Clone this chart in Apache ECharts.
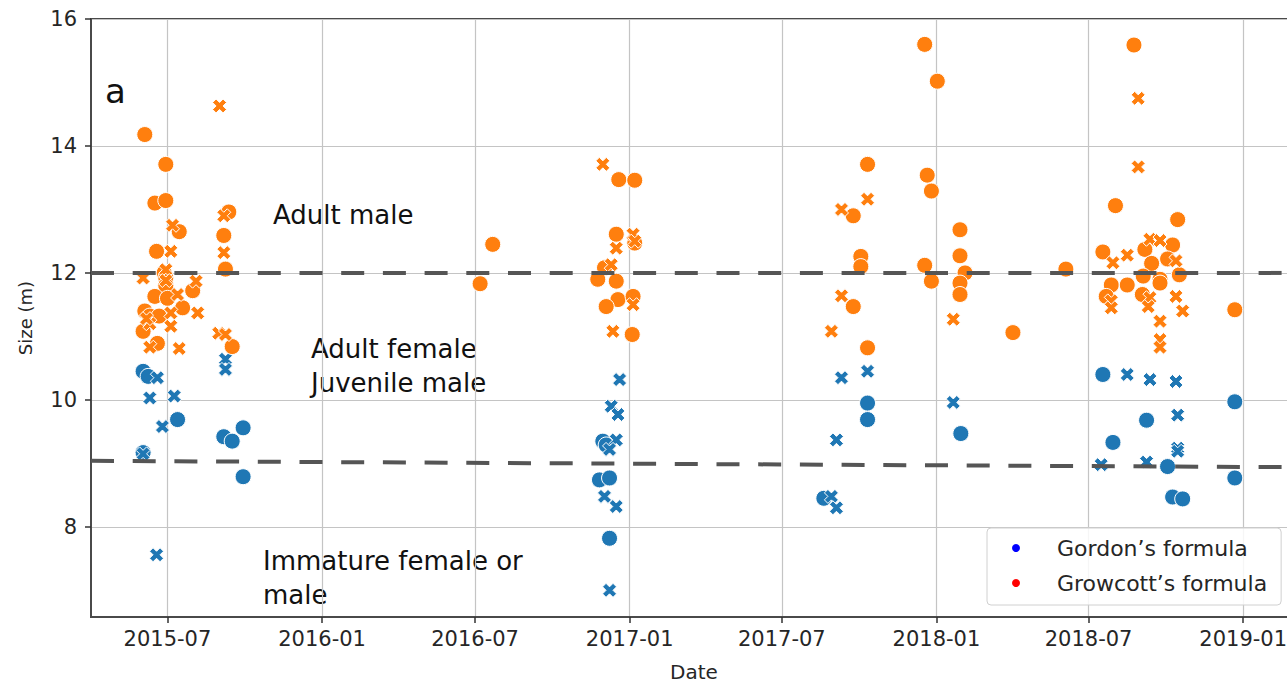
<!DOCTYPE html>
<html>
<head>
<meta charset="utf-8">
<script src="https://cdn.jsdelivr.net/npm/echarts@6/dist/echarts.min.js"></script>
<style>
  html, body { margin: 0; padding: 0; background: #fff; }
  #chart { width: 1287px; height: 686px; }
</style>
</head>
<body>
<div id="chart"></div>
<script>
// Size estimates per sighting date, two formulas, two marker styles
const gordonDots = [
  ['2015-06-02', 10.45], ['2015-06-08', 10.37], ['2015-07-13', 9.69], ['2015-09-06', 9.42],
  ['2015-09-16', 9.35], ['2015-09-29', 9.56], ['2015-06-02', 9.17], ['2015-09-29', 8.79],
  ['2016-11-30', 9.35], ['2016-12-04', 9.29], ['2016-11-26', 8.74], ['2016-12-08', 8.77],
  ['2016-12-08', 7.82],
  ['2017-10-11', 9.95], ['2017-10-11', 9.69], ['2017-08-20', 8.45], ['2018-01-30', 9.47],
  ['2018-07-18', 10.40], ['2018-09-08', 9.68], ['2018-07-30', 9.33], ['2018-10-03', 8.95],
  ['2018-10-09', 8.47], ['2018-10-21', 8.44], ['2018-12-22', 9.97], ['2018-12-22', 8.77]
];
const gordonCrosses = [
  ['2015-09-08', 10.64], ['2015-09-08', 10.48], ['2015-06-19', 10.35], ['2015-06-10', 10.03],
  ['2015-07-09', 10.06], ['2015-06-25', 9.58], ['2015-06-02', 9.15], ['2015-06-18', 7.56],
  ['2016-12-20', 10.32], ['2016-12-10', 9.90], ['2016-12-18', 9.77], ['2016-12-16', 9.37],
  ['2016-12-08', 9.22], ['2016-12-02', 8.48], ['2016-12-16', 8.32], ['2016-12-08', 7.00],
  ['2017-10-11', 10.45], ['2017-09-10', 10.35], ['2017-09-04', 9.37], ['2017-08-29', 8.48],
  ['2017-09-04', 8.30], ['2018-01-21', 9.96],
  ['2018-08-16', 10.40], ['2018-09-12', 10.32], ['2018-10-13', 10.29], ['2018-10-15', 9.76],
  ['2018-10-15', 9.24], ['2018-10-15', 9.19], ['2018-07-16', 8.98], ['2018-09-08', 9.02]
];
const growcottDots = [
  ['2015-06-04', 14.18], ['2015-06-29', 13.71], ['2015-06-16', 13.10], ['2015-06-29', 13.14],
  ['2015-07-15', 12.65], ['2015-09-12', 12.96], ['2015-09-06', 12.59], ['2015-09-08', 12.06],
  ['2015-06-18', 12.34], ['2015-06-27', 12.00], ['2015-06-29', 11.92], ['2015-06-29', 11.80],
  ['2015-07-31', 11.72], ['2015-06-16', 11.63], ['2015-07-01', 11.60], ['2015-07-19', 11.45],
  ['2015-06-04', 11.40], ['2015-06-10', 11.32], ['2015-06-21', 11.32], ['2015-06-02', 11.08],
  ['2015-06-19', 10.89], ['2015-09-16', 10.84],
  ['2016-07-07', 11.83], ['2016-07-22', 12.45],
  ['2016-12-19', 13.47], ['2017-01-07', 13.46], ['2016-12-16', 12.61], ['2017-01-07', 12.47],
  ['2016-12-02', 12.08], ['2016-11-24', 11.90], ['2016-12-16', 11.87], ['2016-12-18', 11.58],
  ['2017-01-05', 11.63], ['2016-12-04', 11.47], ['2017-01-04', 11.03],
  ['2017-12-18', 15.60], ['2018-01-02', 15.02], ['2017-10-11', 13.71], ['2017-09-24', 12.90],
  ['2017-12-21', 13.54], ['2017-12-26', 13.29], ['2018-01-29', 12.68], ['2018-01-29', 12.27],
  ['2017-10-03', 12.26], ['2017-10-03', 12.10], ['2017-12-18', 12.12], ['2017-12-26', 11.87],
  ['2018-02-04', 12.00], ['2018-01-29', 11.84], ['2018-01-29', 11.66], ['2017-09-24', 11.47],
  ['2017-10-11', 10.82], ['2018-04-02', 11.06], ['2018-06-04', 12.06],
  ['2018-08-24', 15.59], ['2018-08-02', 13.06], ['2018-10-15', 12.84], ['2018-07-18', 12.33],
  ['2018-09-06', 12.37], ['2018-10-09', 12.44], ['2018-09-14', 12.15], ['2018-10-03', 12.22],
  ['2018-09-04', 11.95], ['2018-10-17', 11.97], ['2018-09-24', 11.90], ['2018-09-24', 11.84],
  ['2018-07-28', 11.81], ['2018-08-16', 11.81], ['2018-07-22', 11.63], ['2018-09-03', 11.66],
  ['2018-12-22', 11.42]
];
const growcottCrosses = [
  ['2015-09-01', 14.63], ['2015-07-07', 12.75], ['2015-09-06', 12.90], ['2015-09-06', 12.32],
  ['2015-07-05', 12.34], ['2015-06-02', 11.92], ['2015-06-29', 12.05], ['2015-06-29', 11.88],
  ['2015-08-04', 11.87], ['2015-07-13', 11.66], ['2015-08-06', 11.37], ['2015-07-05', 11.37],
  ['2015-06-10', 11.20], ['2015-07-05', 11.16], ['2015-06-10', 10.83], ['2015-07-15', 10.81],
  ['2015-08-31', 11.05], ['2015-09-08', 11.03], ['2015-06-06', 11.28],
  ['2016-11-30', 13.71], ['2017-01-05', 12.61], ['2016-12-16', 12.39], ['2016-12-10', 12.13],
  ['2017-01-05', 11.50], ['2016-12-12', 11.08], ['2017-01-07', 12.50],
  ['2017-10-11', 13.16], ['2017-09-10', 13.00], ['2017-09-10', 11.64], ['2017-08-29', 11.08],
  ['2018-01-21', 11.27],
  ['2018-08-29', 14.75], ['2018-08-29', 13.67], ['2018-07-30', 12.16], ['2018-08-16', 12.28],
  ['2018-09-12', 12.53], ['2018-09-24', 12.51], ['2018-10-13', 12.19], ['2018-07-28', 11.56],
  ['2018-07-28', 11.45], ['2018-09-12', 11.61], ['2018-09-10', 11.47], ['2018-10-13', 11.63],
  ['2018-10-21', 11.40], ['2018-09-24', 11.24], ['2018-09-24', 10.95], ['2018-09-24', 10.83]
];

// Class boundaries (adult male / adult female, and the immature limit)
const adultMaleLimit = [['2015-04-01', 12.0], ['2019-03-06', 12.0]];
const immatureLimit = [['2015-04-01', 9.04], ['2019-03-06', 8.94]];

// Axis ranges and ticks
const dateRange = ['2015-04-01', '2019-03-06'];
const sizeRange = [6.58, 16];
const dateTicks = ['2015-07-01', '2016-01-01', '2016-07-01', '2017-01-01',
                   '2017-07-01', '2018-01-01', '2018-07-01', '2019-01-01'];
const sizeTicks = [8, 10, 12, 14, 16];

const GORDON = 'Gordon\u2019s formula';
const GROWCOTT = 'Growcott\u2019s formula';
const BLUE = '#1f77b4';
const ORANGE = '#ff7f0e';
const CROSS = 'path://M-1,-0.5 L-0.5,-1 L0,-0.5 L0.5,-1 L1,-0.5 L0.5,0 L1,0.5 L0.5,1 L0,0.5 L-0.5,1 L-1,0.5 L-0.5,0 Z';

// Dates become millisecond timestamps on a numeric axis
const toTime = d => echarts.time.parse(d).getTime();
const withTime = rows => rows.map(([d, v]) => [toTime(d), v]);
const tickTimes = dateTicks.map(toTime);

const chart = echarts.init(document.getElementById('chart'), null, { renderer: 'svg' });

function scatter(name, data, color, symbol, size) {
  return {
    name, type: 'scatter', data: withTime(data), symbol, symbolSize: size,
    itemStyle: { color, borderColor: '#ffffff', borderWidth: 1, opacity: 1 },
    emphasis: { disabled: true }, silent: true, z: 3
  };
}
function boundary(data) {
  return {
    type: 'line', data: withTime(data), symbol: 'none', silent: true, z: 4,
    lineStyle: { color: '#555555', width: 4, type: [23, 18.7], dashOffset: 0 }
  };
}

const axisFont = "'DejaVu Sans', sans-serif";
const annotFont = "'DejaVu Sans', sans-serif";

chart.setOption({
  animation: false,
  backgroundColor: '#ffffff',
  grid: {
    left: 91, right: -10, top: 19, bottom: 69,
    outerBoundsMode: 'none',
    show: true, borderColor: '#4a4a4a', borderWidth: 2, backgroundColor: '#ffffff'
  },
  xAxis: {
    type: 'value', min: toTime(dateRange[0]), max: toTime(dateRange[1]),
    name: 'Date', nameLocation: 'middle', nameGap: 45,
    nameTextStyle: { fontFamily: axisFont, fontSize: 20, color: '#262626' },
    axisLine: { show: true, onZero: false, lineStyle: { color: '#4a4a4a', width: 2 } },
    axisTick: { show: true, length: 6, customValues: tickTimes, lineStyle: { color: '#333', width: 1.5 } },
    axisLabel: {
      customValues: tickTimes, margin: 11,
      fontFamily: axisFont, fontSize: 21, color: '#262626',
      formatter: v => echarts.time.format(v, '{yyyy}-{MM}', false)
    },
    splitLine: { show: true, lineStyle: { color: '#c4c4c4', width: 1.2 } }
  },
  yAxis: {
    type: 'value', min: sizeRange[0], max: sizeRange[1],
    name: 'Size (m)', nameLocation: 'middle', nameGap: 57, nameRotate: 90,
    nameTextStyle: { fontFamily: axisFont, fontSize: 18, color: '#262626' },
    axisLine: { show: true, onZero: false, lineStyle: { color: '#4a4a4a', width: 2 } },
    axisTick: { show: true, length: 6, customValues: sizeTicks, lineStyle: { color: '#333', width: 1.5 } },
    axisLabel: { customValues: sizeTicks, margin: 14, fontFamily: axisFont, fontSize: 21, color: '#262626' },
    splitLine: { show: true, lineStyle: { color: '#c4c4c4', width: 1.2 } }
  },
  legend: {
    orient: 'vertical', left: 987, top: 528,
    data: [
      { name: GORDON, icon: 'circle', itemStyle: { color: '#0000ff', borderWidth: 0 } },
      { name: GROWCOTT, icon: 'circle', itemStyle: { color: '#ff0000', borderWidth: 0 } }
    ],
    itemWidth: 8, itemHeight: 8, itemGap: 13, padding: [9, 14, 11, 25],
    textStyle: { fontFamily: axisFont, fontSize: 22, color: '#262626', padding: [0, 0, 0, 32] },
    backgroundColor: 'rgba(255,255,255,0.85)', borderColor: '#d0d0d0', borderWidth: 1, borderRadius: 4,
    selectedMode: false
  },
  series: [
    scatter(GORDON, gordonDots, BLUE, 'circle', 16),
    scatter(GORDON, gordonCrosses, BLUE, CROSS, 14),
    scatter(GROWCOTT, growcottDots, ORANGE, 'circle', 16),
    scatter(GROWCOTT, growcottCrosses, ORANGE, CROSS, 14),
    boundary(adultMaleLimit),
    boundary(immatureLimit)
  ],
  graphic: [
    { type: 'text', x: 105, y: 91, style: { text: 'a', font: "34px " + annotFont, fill: '#111', verticalAlign: 'middle' } },
    { type: 'text', x: 273, y: 215, style: { text: 'Adult male', font: "26px " + annotFont, fill: '#111', verticalAlign: 'middle' } },
    { type: 'text', x: 311, y: 349, style: { text: 'Adult female', font: "26px " + annotFont, fill: '#111', verticalAlign: 'middle' } },
    { type: 'text', x: 311, y: 383, style: { text: 'Juvenile male', font: "26px " + annotFont, fill: '#111', verticalAlign: 'middle' } },
    { type: 'text', x: 263, y: 561, style: { text: 'Immature female or', font: "26px " + annotFont, fill: '#111', verticalAlign: 'middle' } },
    { type: 'text', x: 263, y: 595, style: { text: 'male', font: "26px " + annotFont, fill: '#111', verticalAlign: 'middle' } }
  ]
});
</script>
</body>
</html>
